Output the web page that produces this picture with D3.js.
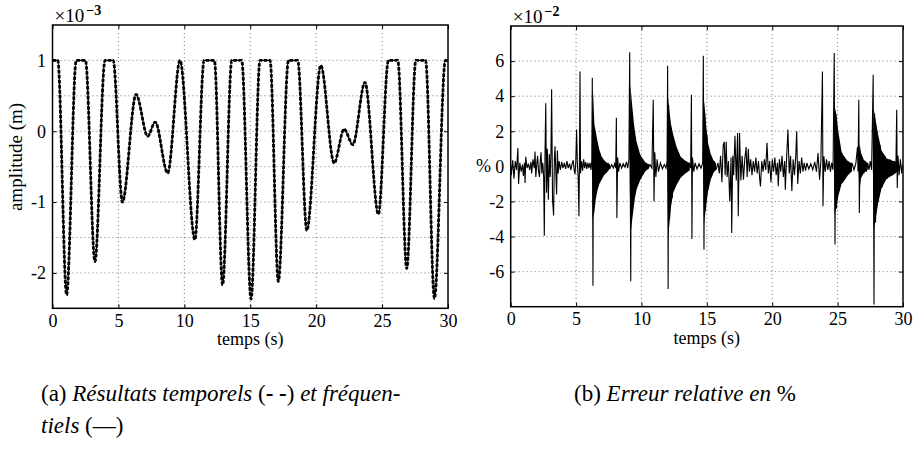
<!DOCTYPE html>
<html><head><meta charset="utf-8">
<script src="https://cdn.jsdelivr.net/npm/d3@7"></script>
<style>body{margin:0;background:#fff}svg{display:block}</style>
</head><body>
<svg id="c" width="916" height="449"></svg>
<script>
// ---------- data ----------
const timeTicks = [0, 5, 10, 15, 20, 25, 30];
const ampTicks = [-2, -1, 0, 1];
const ampGrid = [-2, -1.5, -1, -0.5, 0, 0.5, 1];
const errTicks = [-6, -4, -2, 0, 2, 4, 6];

// (a) amplitude (x1e-3 m) vs time (s): key points
const ampPoints = [
  [0,1],[0.4,1],[1.07,-2.31],[1.8,1],[2.5,1],[3.22,-1.84],[3.98,1],[4.6,1],[5.3,-1.0],
  [6.34,0.52],[7.22,-0.07],[7.79,0.13],[8.74,-0.59],[9.67,1.0],[10.8,-1.53],[11.5,1],
  [12.28,1],[12.9,-2.17],[13.6,1],[14.35,1],[15.06,-2.37],[15.74,1],[16.5,1],[17.13,-2.12],
  [17.9,1],[18.6,1],[19.29,-1.4],[20.35,0.93],[21.36,-0.45],[22.12,0.03],[22.78,-0.19],
  [23.7,0.69],[24.72,-1.17],[25.48,1],[26.19,1],[26.87,-1.94],[27.56,1],[28.3,1],
  [28.97,-2.36],[29.8,1],[30,1]
];

// (b) relative error (x1e-2 %) thin trace
const errTrace = [
  [0,0],[0.05,-0.5],[0.15,0.35],[0.25,-0.7],[0.35,0.3],[0.45,-0.2],[0.55,1.05],[0.6,-1.0],[0.7,0.2],[0.8,-0.3],[0.9,0.1],[0.97,-0.55],[1.05,0.2],[1.1,-0.95],[1.15,0.55],[1.25,-0.1],[1.35,0.15],[1.45,-0.2],[1.55,0.25],[1.6,-0.4],[1.7,0.4],[1.8,-0.1],[1.86,0.85],[1.92,-0.6],[2.0,0.2],[2.06,0.6],[2.12,-0.2],[2.2,-0.6],[2.26,0.3],[2.32,0.8],[2.38,-0.4],[2.45,0.2],[2.52,-0.6],
  [2.57,-3.95],[2.62,0.5],[2.68,3.6],[2.74,-1.5],[2.8,1.0],[2.88,-1.9],[2.95,0.7],[3.02,-0.6],[3.08,0.8],[3.13,4.4],[3.2,-1.9],[3.28,-2.8],[3.34,0.4],[3.39,1.15],[3.45,-0.3],[3.51,-1.6],[3.57,0.9],[3.63,-0.4],[3.7,0.3],
  [3.8,-0.2],[3.9,0.25],[4.0,-0.1],[4.1,0.2],[4.2,-0.15],[4.3,0.3],[4.4,-0.1],[4.5,0.15],[4.6,-0.2],[4.68,0.1],[4.78,0.35],[4.85,-0.2],[4.92,-0.45],[4.98,0.3],
  [5.04,2.1],[5.1,0.1],[5.16,-0.6],[5.22,-2.85],[5.26,0.4],[5.3,5.4],[5.34,-0.4],[5.42,0.3],[5.5,-0.25],[5.58,0.4],[5.66,-0.1],[5.74,0.25],[5.82,-0.15],[5.9,0.2],[5.98,-0.1],[6.06,0.2],[6.14,-0.2],[6.2,0.3],
  [6.24,5.05],[6.29,-6.8],[6.33,2.0],[6.4,-1.5],[6.5,1.5],[6.6,-1.0],[6.75,0.6],[6.9,-0.5],[7.1,0.3],[7.3,-0.3],[7.45,0.15],[7.6,-0.1],[7.72,0.1],[7.85,-0.1],[7.95,0.15],[8.03,-0.1],
  [8.08,2.77],[8.12,-2.94],[8.18,0.5],[8.25,-0.3],[8.35,0.2],[8.48,-0.1],[8.6,0.15],[8.74,-0.05],[8.85,0.25],[8.95,-0.1],[9.04,0.4],
  [9.1,6.5],[9.18,-6.55],[9.22,3.0],[9.3,-2.5],[9.4,1.8],[9.5,-1.5],[9.65,1.0],[9.8,-0.8],[10.0,0.4],[10.2,-0.3],[10.35,0.15],[10.5,-0.1],[10.65,0.1],[10.8,-0.1],
  [10.9,3.8],[10.96,-2.0],[11.02,0.8],[11.1,-0.6],[11.2,0.4],[11.3,-0.3],[11.45,0.2],[11.6,-0.15],[11.75,0.1],[11.88,-0.1],[11.96,0.3],
  [12.0,5.74],[12.04,-6.99],[12.08,3.5],[12.15,-3.0],[12.25,2.0],[12.35,-1.8],[12.5,1.2],[12.7,-0.9],[12.9,0.5],[13.1,-0.4],[13.3,0.25],[13.5,-0.2],[13.65,0.15],[13.76,-0.1],
  [13.82,4.08],[13.86,-4.14],[13.9,0.5],[14.0,-0.3],[14.1,0.2],[14.25,-0.15],[14.4,0.15],[14.55,-0.1],[14.68,0.2],
  [14.73,6.3],[14.78,-4.75],[14.84,3.0],[14.9,-2.5],[15.0,1.8],[15.1,-1.3],[15.25,0.7],[15.4,-0.5],[15.55,0.3],[15.7,-0.2],[15.85,0.2],
  [15.95,-0.4],[16.05,0.6],[16.15,-0.9],[16.25,1.2],[16.33,1.4],[16.4,-0.5],[16.48,1.4],[16.55,-0.6],[16.65,0.3],[16.75,-2.0],[16.85,0.5],[16.9,-3.8],[16.98,0.6],[17.05,-0.5],[17.15,1.75],[17.25,-0.8],[17.35,1.9],[17.4,-2.85],[17.5,1.9],[17.6,-0.8],[17.7,0.6],[17.8,-0.76],[17.9,0.4],[18.0,1.1],[18.08,-0.6],[18.17,1.0],[18.25,-0.3],[18.35,0.4],[18.45,-0.5],[18.55,0.3],[18.65,-0.3],[18.75,0.5],[18.85,-0.4],[18.95,0.3],[19.05,-0.8],[19.1,-1.14],[19.2,0.3],[19.3,-0.3],[19.4,0.4],
  [19.5,-0.2],[19.6,1.35],[19.7,-0.4],[19.8,0.3],[19.9,-0.9],[20.0,0.4],[20.1,-0.3],[20.2,0.5],[20.3,-0.5],[20.4,0.2],[20.46,-1.14],[20.55,0.4],[20.65,-0.3],[20.75,0.6],[20.85,-0.6],[20.95,0.3],[21.0,-1.33],[21.1,0.5],[21.2,2.1],[21.3,-0.4],[21.4,0.6],[21.5,-1.4],[21.6,0.4],[21.7,-0.5],[21.8,0.6],[21.87,2.0],[21.95,-1.0],[22.05,0.3],[22.15,-0.4],[22.25,0.5],[22.35,-0.3],[22.45,0.2],[22.55,-0.25],[22.65,0.2],[22.8,-0.15],[22.95,0.15],[23.1,-0.2],[23.25,0.25],[23.38,-0.3],[23.5,0.76],[23.62,-0.76],[23.72,0.3],
  [23.84,5.41],[23.88,-2.28],[23.95,0.57],[24.05,-0.3],[24.15,0.4],[24.25,-0.2],[24.35,0.3],[24.45,-0.3],[24.55,0.2],[24.65,-0.2],
  [24.74,6.46],[24.8,-4.46],[24.86,3.0],[24.92,-2.4],[25.0,1.8],[25.1,-1.4],[25.2,1.0],[25.35,-0.9],[25.5,0.5],[25.65,-0.5],[25.8,0.3],[25.95,-0.3],[26.1,0.2],[26.25,-0.2],[26.4,0.2],[26.52,1.1],[26.56,-0.3],
  [26.62,3.8],[26.66,-2.66],[26.72,0.8],[26.8,-0.6],[26.9,0.4],[27.0,-0.4],[27.1,0.3],[27.2,-0.3],[27.3,0.2],[27.4,-0.2],[27.5,0.3],[27.6,-0.2],
  [27.72,5.22],[27.78,-7.88],[27.83,3.0],[27.9,-3.2],[28.0,2.0],[28.1,-2.0],[28.25,1.2],[28.4,-1.2],[28.6,0.6],[28.8,-0.7],[29.0,0.4],[29.2,-0.5],[29.35,0.3],[29.45,-0.3],
  [29.52,3.23],[29.56,-1.23],[29.62,0.6],[29.7,-0.5],[29.8,0.4],[29.9,-0.4],[30,0.1]
];

// (b) dense decaying oscillation envelopes: [t, upper, lower]
const burst1 = [[6.24,0.3,-0.3],[6.28,4.6,-3.0],[6.4,2.4,-2.6],[6.5,2.0,-1.9],[6.62,1.5,-1.4],[6.78,0.95,-1.0],[6.96,0.55,-0.75],[7.15,0.35,-0.5],[7.35,0.2,-0.35],[7.6,0.1,-0.12]];
const burst2 = [[9.1,0.3,-0.3],[9.15,4.7,-4.0],[9.25,3.8,-3.3],[9.43,2.4,-2.2],[9.5,2.0,-1.8],[9.63,1.4,-1.3],[9.89,0.7,-0.8],[10.0,0.55,-0.65],[10.3,0.22,-0.28],[10.6,0.1,-0.1]];
const burst3 = [[11.98,0.3,-0.3],[12.04,4.0,-4.2],[12.1,3.4,-3.6],[12.26,2.4,-2.3],[12.43,1.8,-1.5],[12.69,1.1,-1.05],[13.0,0.55,-0.65],[13.33,0.33,-0.42],[13.7,0.18,-0.22]];
const burst4 = [[14.72,0.3,-0.3],[14.78,3.8,-3.3],[14.86,3.2,-2.8],[14.95,2.3,-2.2],[15.1,1.3,-1.4],[15.3,0.7,-0.75],[15.5,0.35,-0.38],[15.7,0.18,-0.2]];
const burst5 = [[24.72,0.3,-0.3],[24.78,3.4,-2.8],[24.92,2.9,-2.3],[25.05,2.0,-1.7],[25.3,0.85,-1.0],[25.43,0.65,-0.9],[25.8,0.28,-0.5],[26.1,0.18,-0.28]];
const burst6 = [[26.6,0.3,-0.3],[26.68,1.3,-1.3],[26.8,0.75,-0.65],[27.0,0.38,-0.38],[27.3,0.18,-0.18]];
const burst7 = [[27.7,0.3,-0.3],[27.78,3.2,-3.6],[27.85,2.9,-3.3],[28.1,1.8,-2.1],[28.36,0.9,-1.25],[28.75,0.45,-0.7],[29.36,0.28,-0.44],[29.6,0.18,-0.28]];
const errBursts = [burst1, burst2, burst3, burst4, burst5, burst6, burst7];

// ---------- font selection (serif, Times-like) ----------
function pickFont(list) {
  const ctx = document.createElement("canvas").getContext("2d");
  const s = "amplitude temps Résultats 0123456789";
  ctx.font = "40px monospace"; const wm = ctx.measureText(s).width;
  ctx.font = "40px sans-serif"; const ws = ctx.measureText(s).width;
  for (const f of list) {
    ctx.font = `40px '${f}', monospace`; const a = ctx.measureText(s).width;
    ctx.font = `40px '${f}', sans-serif`; const b = ctx.measureText(s).width;
    if (Math.abs(a - wm) > 0.5 || Math.abs(b - ws) > 0.5) return `'${f}', serif`;
  }
  return "serif";
}
const FONT = pickFont(["Liberation Serif", "Times New Roman", "Tinos", "Nimbus Roman", "DejaVu Serif", "Noto Serif"]);
const svg = d3.select("#c");

function panel(o) {
  const g = svg.append("g");
  const x = d3.scaleLinear().domain([0, 30]).range([o.x0, o.x1]);
  const y = d3.scaleLinear().domain(o.yDomain).range([o.y1, o.y0]);

  g.append("g").selectAll("line").data(timeTicks.slice(1, -1)).join("line")
    .attr("x1", d => x(d)).attr("x2", d => x(d)).attr("y1", o.y0).attr("y2", o.y1)
    .attr("stroke", "#666").attr("stroke-width", 0.9).attr("stroke-dasharray", "1,3");
  g.append("g").selectAll("line").data(o.yGrid).join("line")
    .attr("x1", o.x0).attr("x2", o.x1).attr("y1", d => y(d)).attr("y2", d => y(d))
    .attr("stroke", "#666").attr("stroke-width", 0.9).attr("stroke-dasharray", "1,3");

  g.append("g").attr("transform", `translate(0,${o.y1})`)
    .call(d3.axisBottom(x).tickValues(timeTicks).tickSizeInner(-4).tickSizeOuter(0).tickPadding(5.5));
  g.append("g").attr("transform", `translate(${o.x0},0)`)
    .call(d3.axisLeft(y).tickValues(o.yTicks).tickSizeInner(-4).tickSizeOuter(0).tickPadding(6.5)
      .tickFormat(d => d < 0 ? "-" + Math.abs(d) : String(d)));
  g.append("g").attr("transform", `translate(0,${o.y0})`)
    .call(d3.axisTop(x).tickValues(timeTicks).tickSizeInner(-4).tickSizeOuter(0).tickFormat(""));
  g.append("g").attr("transform", `translate(${o.x1},0)`)
    .call(d3.axisRight(y).tickValues(o.yTicks).tickSizeInner(-4).tickSizeOuter(0).tickFormat(""));
  g.selectAll(".domain").remove();
  g.selectAll(".tick line").attr("stroke", "#000").attr("stroke-width", 1);
  g.selectAll(".tick text").attr("font-family", FONT).attr("font-size", 18).attr("fill", "#000");

  const cid = "clip" + o.id;
  svg.append("clipPath").attr("id", cid).append("rect")
    .attr("x", o.x0).attr("y", o.y0).attr("width", o.x1 - o.x0).attr("height", o.y1 - o.y0);
  const plot = g.append("g").attr("clip-path", `url(#${cid})`);

  g.append("rect").attr("x", o.x0).attr("y", o.y0).attr("width", o.x1 - o.x0).attr("height", o.y1 - o.y0)
    .attr("fill", "none").attr("stroke", "#000").attr("stroke-width", 1.5);

  const m = g.append("text").attr("x", o.x0 + 2).attr("y", o.y0 - 3.5)
    .attr("font-family", FONT).attr("font-size", 19).attr("fill", "#000");
  m.append("tspan").text("×10");
  m.append("tspan").attr("dy", -7).attr("dx", 2).attr("font-size", 14).attr("font-weight", "bold").text(o.exp);

  g.append("text").attr("x", (o.x0 + o.x1) / 2).attr("y", o.y1 + 37)
    .attr("text-anchor", "middle").attr("font-family", FONT).attr("font-size", 18).text("temps (s)");
  return { g, plot, x, y };
}

// Panel (a)
const A = panel({ id: "a", x0: 52.5, x1: 448, y0: 25, y1: 308.3, yDomain: [-2.5, 1.5],
  yTicks: ampTicks, yGrid: ampGrid, exp: "−3" });
A.g.append("text").attr("transform", "translate(22,157) rotate(-90)")
  .attr("text-anchor", "middle").attr("font-family", FONT).attr("font-size", 19).text("amplitude (m)");
const ampLine = d3.line().x(d => A.x(d[0])).y(d => A.y(d[1])).curve(d3.curveMonotoneX);
A.plot.append("path").datum(ampPoints).attr("d", ampLine)
  .attr("fill", "none").attr("stroke", "#000").attr("stroke-width", 1.4);
A.plot.append("path").datum(ampPoints).attr("d", ampLine)
  .attr("fill", "none").attr("stroke", "#000").attr("stroke-width", 2.8).attr("stroke-dasharray", "3.5,1.5");

// Panel (b)
const B = panel({ id: "b", x0: 510.7, x1: 903, y0: 26, y1: 306.7, yDomain: [-8, 8],
  yTicks: errTicks, yGrid: errTicks, exp: "−2" });
B.g.append("text").attr("x", 476).attr("y", B.y(0) + 6)
  .attr("font-family", FONT).attr("font-size", 18).text("%");
const burstArea = d3.area().x(d => B.x(d[0])).y0(d => B.y(d[2])).y1(d => B.y(d[1]));
B.plot.append("g").selectAll("path").data(errBursts).join("path")
  .attr("d", burstArea).attr("fill", "#000");
const errLine = d3.line().x(d => B.x(d[0])).y(d => B.y(d[1]));
B.plot.append("path").datum(errTrace).attr("d", errLine)
  .attr("fill", "none").attr("stroke", "#000").attr("stroke-width", 1.1);

// captions
const cap = svg.append("g").attr("font-family", FONT).attr("font-size", 23).attr("fill", "#000");
const c1 = cap.append("text").attr("x", 41).attr("y", 401);
c1.append("tspan").text("(a) ");
c1.append("tspan").attr("font-style", "italic").text("Résultats temporels ");
c1.append("tspan").text("(");
c1.append("tspan").attr("font-weight", "bold").text("- -");
c1.append("tspan").text(")");
c1.append("tspan").attr("font-style", "italic").text(" et fréquen-");
const c2 = cap.append("text").attr("x", 41).attr("y", 433);
c2.append("tspan").attr("font-style", "italic").text("tiels ");
c2.append("tspan").text("(—)");
const c3 = cap.append("text").attr("x", 574).attr("y", 401);
c3.append("tspan").text("(b) ");
c3.append("tspan").attr("font-style", "italic").text("Erreur relative en ");
c3.append("tspan").text("%");
</script>
</body></html>
